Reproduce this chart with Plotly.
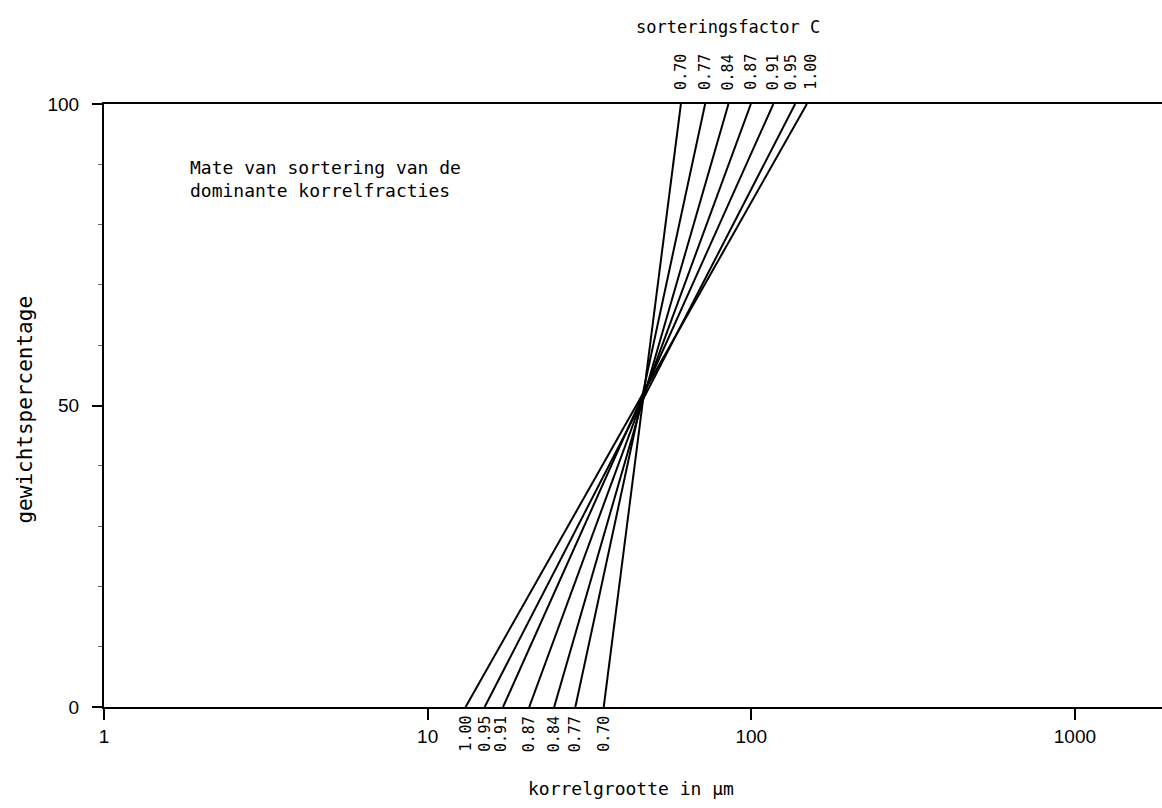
import math
import plotly.graph_objects as go

# Sorting factor C and the grain sizes (µm) at which each line reaches 0 % and 100 %
sort_factor = ["0.70", "0.77", "0.84", "0.87", "0.91", "0.95", "1.00"]
grain_at_0 = [35.0, 28.6, 24.6, 20.6, 17.1, 15.0, 13.1]
grain_at_100 = [60.6, 72.0, 85.0, 99.7, 117.0, 136.6, 148.5]
pct_ends = [0, 100]

x_ticks = [1, 10, 100, 1000]
y_ticks = [0, 50, 100]

W, H = 1162, 808
ML, MR, MT, MB = 103.5, 0, 104, 101
plot_w = W - ML - MR
plot_h = H - MT - MB
decade_px = 323.8
x_max_log = plot_w / decade_px

MONO = "DejaVu Sans Mono"
SANS = "Liberation Sans"

# small horizontal nudges (px) so crowded labels do not collide
top_nudge = {"0.95": -4, "1.00": 4}
bottom_nudge = {"0.91": -2}


def px_to_paper_x(px):
    return (px - ML) / plot_w


def px_to_paper_y(py):
    return (H - MB - py) / plot_h


fig = go.Figure()

for c, d0, d100 in zip(sort_factor, grain_at_0, grain_at_100):
    fig.add_trace(go.Scatter(
        x=[d0, d100], y=pct_ends, mode="lines",
        line=dict(color="black", width=2),
        name=c, showlegend=False, hoverinfo="skip",
    ))

annotations = []
# factor labels under the 0 % ends
for c, d0 in zip(sort_factor, grain_at_0):
    annotations.append(dict(
        x=math.log10(d0), xref="x", y=0, yref="paper",
        yshift=-7, xshift=bottom_nudge.get(c, 0),
        xanchor="center", yanchor="top",
        text=c, textangle=-90, showarrow=False,
        font=dict(family=MONO, size=15, color="black"),
    ))
# factor labels above the 100 % ends
for c, d100 in zip(sort_factor, grain_at_100):
    annotations.append(dict(
        x=math.log10(d100), xref="x", y=1, yref="paper",
        yshift=12, xshift=top_nudge.get(c, 0),
        xanchor="center", yanchor="bottom",
        text=c, textangle=-90, showarrow=False,
        font=dict(family=MONO, size=15, color="black"),
    ))

annotations += [
    dict(x=px_to_paper_x(728), y=px_to_paper_y(27), xref="paper", yref="paper",
         text="sorteringsfactor C", showarrow=False,
         xanchor="center", yanchor="middle",
         font=dict(family=MONO, size=17, color="black")),
    dict(x=px_to_paper_x(188), y=px_to_paper_y(155), xref="paper", yref="paper",
         text="Mate van sortering van de<br>dominante korrelfracties",
         showarrow=False, align="left", xanchor="left", yanchor="top",
         font=dict(family=MONO, size=18, color="black")),
    dict(x=px_to_paper_x(631), y=px_to_paper_y(788), xref="paper", yref="paper",
         text="korrelgrootte in µm", showarrow=False,
         xanchor="center", yanchor="middle",
         font=dict(family=MONO, size=18, color="black")),
    dict(x=px_to_paper_x(24), y=px_to_paper_y(410), xref="paper", yref="paper",
         text="gewichtspercentage", showarrow=False, textangle=-90,
         xanchor="center", yanchor="middle",
         font=dict(family=MONO, size=21, color="black")),
]

fig.update_layout(
    width=W, height=H,
    margin=dict(l=ML, r=MR, t=MT, b=MB, pad=0),
    paper_bgcolor="white", plot_bgcolor="white",
    showlegend=False,
    annotations=annotations,
    xaxis=dict(
        type="log", range=[0, x_max_log],
        tickvals=x_ticks, ticktext=[str(v) for v in x_ticks],
        ticks="outside", ticklen=11, tickwidth=1.5, tickcolor="black",
        showline=True, linecolor="black", linewidth=2, mirror=True,
        showgrid=False, zeroline=False,
        tickfont=dict(family=SANS, size=19, color="black"),
    ),
    yaxis=dict(
        range=[0, 100],
        tickvals=y_ticks, ticktext=[str(v) for v in y_ticks],
        ticks="outside", ticklen=10, tickwidth=1.5, tickcolor="black",
        ticklabelstandoff=9,
        minor=dict(dtick=10, ticks="outside", ticklen=4, tickwidth=1, tickcolor="#666"),
        showline=True, linecolor="black", linewidth=2,
        showgrid=False, zeroline=False,
        tickfont=dict(family=SANS, size=19, color="black"),
    ),
)

fig.write_html("out.html")
